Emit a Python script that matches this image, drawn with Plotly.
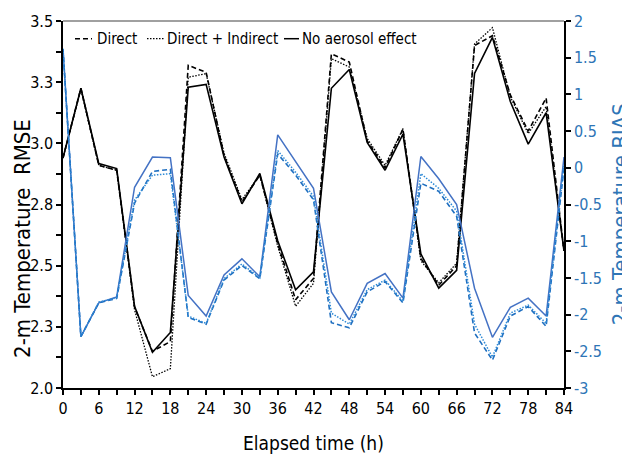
import plotly.graph_objects as go

# ---- data ----
hours = list(range(0, 87, 3))

rmse_direct = [2.94, 3.225, 2.91, 2.89, 2.33, 2.15, 2.19, 3.319, 3.29, 2.95, 2.76, 2.87,
               2.59, 2.361, 2.448, 3.366, 3.332, 3.01, 2.90, 3.058, 2.53, 2.42, 2.50,
               3.40, 3.44, 3.198, 3.05, 3.185, 2.56]
rmse_dirind = [2.94, 3.22, 2.91, 2.89, 2.32, 2.046, 2.079, 3.27, 3.285, 2.96, 2.77, 2.87,
               2.58, 2.334, 2.428, 3.346, 3.312, 3.02, 2.91, 3.06, 2.52, 2.43, 2.51,
               3.406, 3.473, 3.19, 3.04, 3.15, 2.56]
rmse_none = [2.94, 3.225, 2.917, 2.897, 2.334, 2.146, 2.227, 3.229, 3.241, 2.944, 2.753, 2.877,
             2.602, 2.401, 2.475, 3.225, 3.302, 3.004, 2.890, 3.038, 2.548, 2.408, 2.481,
             3.286, 3.433, 3.171, 2.997, 3.125, 2.56]

bias_direct = [1.62, -2.3, -1.84, -1.78, -0.48, -0.05, -0.02, -2.04, -2.13, -1.53, -1.33, -1.51,
               0.19, -0.10, -0.435, -2.11, -2.18, -1.69, -1.55, -1.84, -0.21, -0.32, -0.66,
               -2.25, -2.62, -2.02, -1.89, -2.16, 0.0]
bias_dirind = [1.62, -2.3, -1.83, -1.77, -0.44, -0.10, -0.08, -2.02, -2.12, -1.51, -1.31, -1.50,
               0.235, -0.06, -0.39, -1.98, -2.13, -1.66, -1.53, -1.82, -0.08, -0.28, -0.59,
               -2.13, -2.58, -1.98, -1.87, -2.12, 0.05]
bias_none = [1.62, -2.3, -1.84, -1.76, -0.265, 0.146, 0.137, -1.74, -2.02, -1.46, -1.24, -1.485,
             0.449, 0.079, -0.28, -1.69, -2.07, -1.575, -1.44, -1.776, 0.154, -0.15, -0.50,
             -1.64, -2.31, -1.90, -1.776, -2.02, 0.146]

x_ticks = list(range(0, 85, 6))
rmse_ticks = [2.0, 2.25, 2.5, 2.75, 3.0, 3.25, 3.5]
rmse_labels = ["2.0", "2.3", "2.5", "2.8", "3.0", "3.3", "3.5"]
bias_ticks = [2, 1.5, 1, 0.5, 0, -0.5, -1, -1.5, -2, -2.5, -3]
bias_labels = ["2", "1.5", "1", "0.5", "0", "-0.5", "-1", "-1.5", "-2", "-2.5", "-3"]

legend_names = ["Direct", "Direct + Indirect", "No aerosol effect"]

FONT = "DejaVu Sans Condensed, Liberation Sans Narrow, Liberation Sans, sans-serif"
BLUE_TXT = "#2E75B6"

fig = go.Figure()

# blue BIAS lines (secondary axis)
fig.add_trace(go.Scatter(x=hours, y=bias_none, yaxis="y2", mode="lines",
                         line=dict(color="#4472C4", width=1.5), showlegend=False))
fig.add_trace(go.Scatter(x=hours, y=bias_direct, yaxis="y2", mode="lines",
                         line=dict(color="#1F6FC0", width=1.6, dash="5px,3px"), showlegend=False))
fig.add_trace(go.Scatter(x=hours, y=bias_dirind, yaxis="y2", mode="lines",
                         line=dict(color="#2E8AD6", width=1.5, dash="1.5px,1.5px"), showlegend=False))

# black RMSE lines
fig.add_trace(go.Scatter(x=hours, y=rmse_none, mode="lines",
                         line=dict(color="black", width=1.6), showlegend=False))
fig.add_trace(go.Scatter(x=hours, y=rmse_direct, mode="lines",
                         line=dict(color="black", width=1.6, dash="5px,3px"), showlegend=False))
fig.add_trace(go.Scatter(x=hours, y=rmse_dirind, mode="lines",
                         line=dict(color="black", width=1.3, dash="1.5px,1.5px"), showlegend=False))

# ---- custom legend (pixel layout converted to paper coords) ----
L, R, T, B = 63, 564, 15, 388
def px(x):
    return (x - L) / (R - L)
def py(y):
    return (B - y) / (B - T)

leg_y = 33
leg_items = [
    (75, 92, 95, dict(color="black", width=1.6, dash="5px,3px")),
    (147, 164, 165, dict(color="black", width=1.3, dash="1.5px,1.5px")),
    (284, 299, 300, dict(color="black", width=1.5)),
]
shapes = []
annotations = []
for (x0, x1, xt, ln), name in zip(leg_items, legend_names):
    shapes.append(dict(type="line", xref="paper", yref="paper",
                       x0=px(x0), x1=px(x1), y0=py(leg_y), y1=py(leg_y), line=ln))
    annotations.append(dict(xref="paper", yref="paper", x=px(xt), y=py(leg_y),
                            xanchor="left", yanchor="middle", showarrow=False,
                            text=name, font=dict(family=FONT, size=15, color="black")))

# top border (gray)
shapes.append(dict(type="line", xref="paper", yref="paper", x0=0, x1=1, y0=1, y1=1,
                   line=dict(color="#808080", width=1.5)))

# axis titles
annotations.append(dict(xref="paper", yref="paper", x=px(8), y=py(236),
                        xanchor="left", yanchor="middle", textangle=-90, showarrow=False,
                        text="2-m Temperature  RMSE",
                        font=dict(family=FONT, size=22, color="black")))
annotations.append(dict(xref="paper", yref="paper", x=px(606), y=py(212),
                        xanchor="left", yanchor="middle", textangle=-90, showarrow=False,
                        text="2-m Temperature BIAS",
                        font=dict(family=FONT, size=22, color=BLUE_TXT)))
annotations.append(dict(xref="paper", yref="paper", x=0.5, y=py(444),
                        xanchor="center", yanchor="middle", showarrow=False,
                        text="Elapsed time (h)",
                        font=dict(family=FONT, size=19, color="black")))

fig.update_layout(
    width=622, height=464,
    margin=dict(l=L, r=622 - R, t=T, b=464 - B),
    paper_bgcolor="white", plot_bgcolor="white",
    font=dict(family=FONT, size=16, color="black"),
    shapes=shapes, annotations=annotations,
    showlegend=False,
    xaxis=dict(range=[0, 84], tickmode="array", tickvals=x_ticks,
               ticks="outside", ticklen=5, tickwidth=1.5, tickcolor="black",
               minor=dict(dtick=3, tick0=0, ticks="outside", ticklen=5, tickwidth=1.5, tickcolor="black"),
               showline=True, linecolor="black", linewidth=1.5, showgrid=False, zeroline=False,
               tickfont=dict(family=FONT, size=16, color="black")),
    yaxis=dict(range=[2.0, 3.5], tickmode="array", tickvals=rmse_ticks, ticktext=rmse_labels,
               ticks="outside", ticklen=5, tickwidth=1.5, tickcolor="black",
               minor=dict(dtick=0.125, tick0=2.0, ticks="outside", ticklen=5, tickwidth=1.5, tickcolor="black"),
               showline=True, linecolor="black", linewidth=1.5, showgrid=False, zeroline=False,
               tickfont=dict(family=FONT, size=16, color="black")),
    yaxis2=dict(range=[-3, 2], overlaying="y", side="right", tickmode="array",
                tickvals=bias_ticks, ticktext=bias_labels,
                ticks="outside", ticklen=5, tickwidth=1.5, tickcolor="black",
                showline=True, linecolor="black", linewidth=1.5, showgrid=False, zeroline=False,
                tickfont=dict(family=FONT, size=16, color=BLUE_TXT)),
)

fig.write_html("out.html", config={"displayModeBar": False},
               post_script="document.body.style.margin='0';document.body.style.overflow='hidden';")
